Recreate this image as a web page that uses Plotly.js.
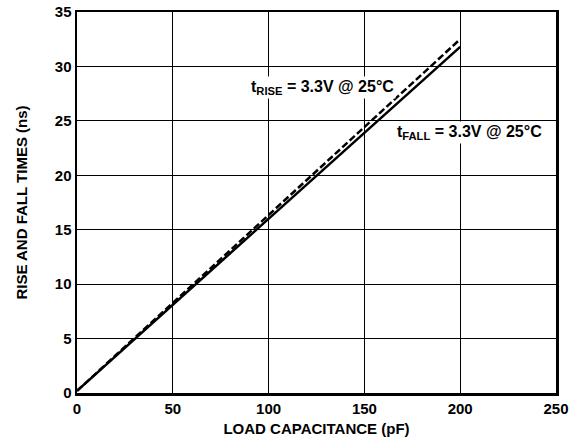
<!DOCTYPE html>
<html><head><meta charset="utf-8">
<script src="https://cdn.plot.ly/plotly-3.0.1.min.js"></script>
<style>html,body{margin:0;padding:0;background:#fff;}</style>
</head><body>
<div id="chart" style="width:569px;height:446px;"></div>
<script>
const capacitance = [0, 200];
const tRise = [0.2, 32.5];
const tFall = [0.2, 31.8];
const xTicks = [0, 50, 100, 150, 200, 250];
const yTicks = [0, 5, 10, 15, 20, 25, 30, 35];
const labelRise = 't<sub>RISE</sub> = 3.3V @ 25°C';
const labelFall = 't<sub>FALL</sub> = 3.3V @ 25°C';

const fam = 'Liberation Sans, Arial, sans-serif';
const traces = [
  {x: capacitance, y: tFall, mode: 'lines', line: {color: '#000', width: 2.5}, showlegend: false, hoverinfo: 'skip'},
  {x: capacitance, y: tRise, mode: 'lines', line: {color: '#000', width: 2.5, dash: '7px,3px'}, showlegend: false, hoverinfo: 'skip'}
];
const layout = {
  width: 569, height: 446,
  margin: {l: 77, r: 13, t: 12, b: 53},
  paper_bgcolor: '#fff', plot_bgcolor: '#fff',
  font: {family: fam, size: 15, color: '#000'},
  xaxis: {
    range: [0, 250], tickvals: xTicks, ticktext: xTicks.map(String),
    showgrid: true, gridcolor: '#000', gridwidth: 1, zeroline: false,
    showline: true, linecolor: '#000', linewidth: 2.5, mirror: true, ticks: '',
    tickfont: {family: fam, size: 15, color: '#000', weight: 'bold'},
    title: {text: '<b>LOAD CAPACITANCE (pF)</b>', font: {family: fam, size: 15, color: '#000'}, standoff: 8}
  },
  yaxis: {
    range: [0, 35], tickvals: yTicks, ticktext: yTicks.map(String),
    showgrid: true, gridcolor: '#000', gridwidth: 1, zeroline: false,
    showline: true, linecolor: '#000', linewidth: 2.5, mirror: true, ticks: '',
    tickfont: {family: fam, size: 15, color: '#000', weight: 'bold'},
    title: {text: '<b>RISE AND FALL TIMES (ns)</b>', font: {family: fam, size: 15, color: '#000'}, standoff: 24}
  },
  annotations: [
    {x: 128, y: 28.1, xref: 'x', yref: 'y', text: '<b>' + labelRise + '</b>', showarrow: false,
     bgcolor: '#fff', font: {family: fam, size: 16, color: '#000'}, borderpad: 1},
    {x: 205, y: 23.9, xref: 'x', yref: 'y', text: '<b>' + labelFall + '</b>', showarrow: false,
     bgcolor: '#fff', font: {family: fam, size: 16, color: '#000'}, borderpad: 1}
  ]
};
Plotly.newPlot('chart', traces, layout, {staticPlot: true, displayModeBar: false});
</script>
</body></html>
